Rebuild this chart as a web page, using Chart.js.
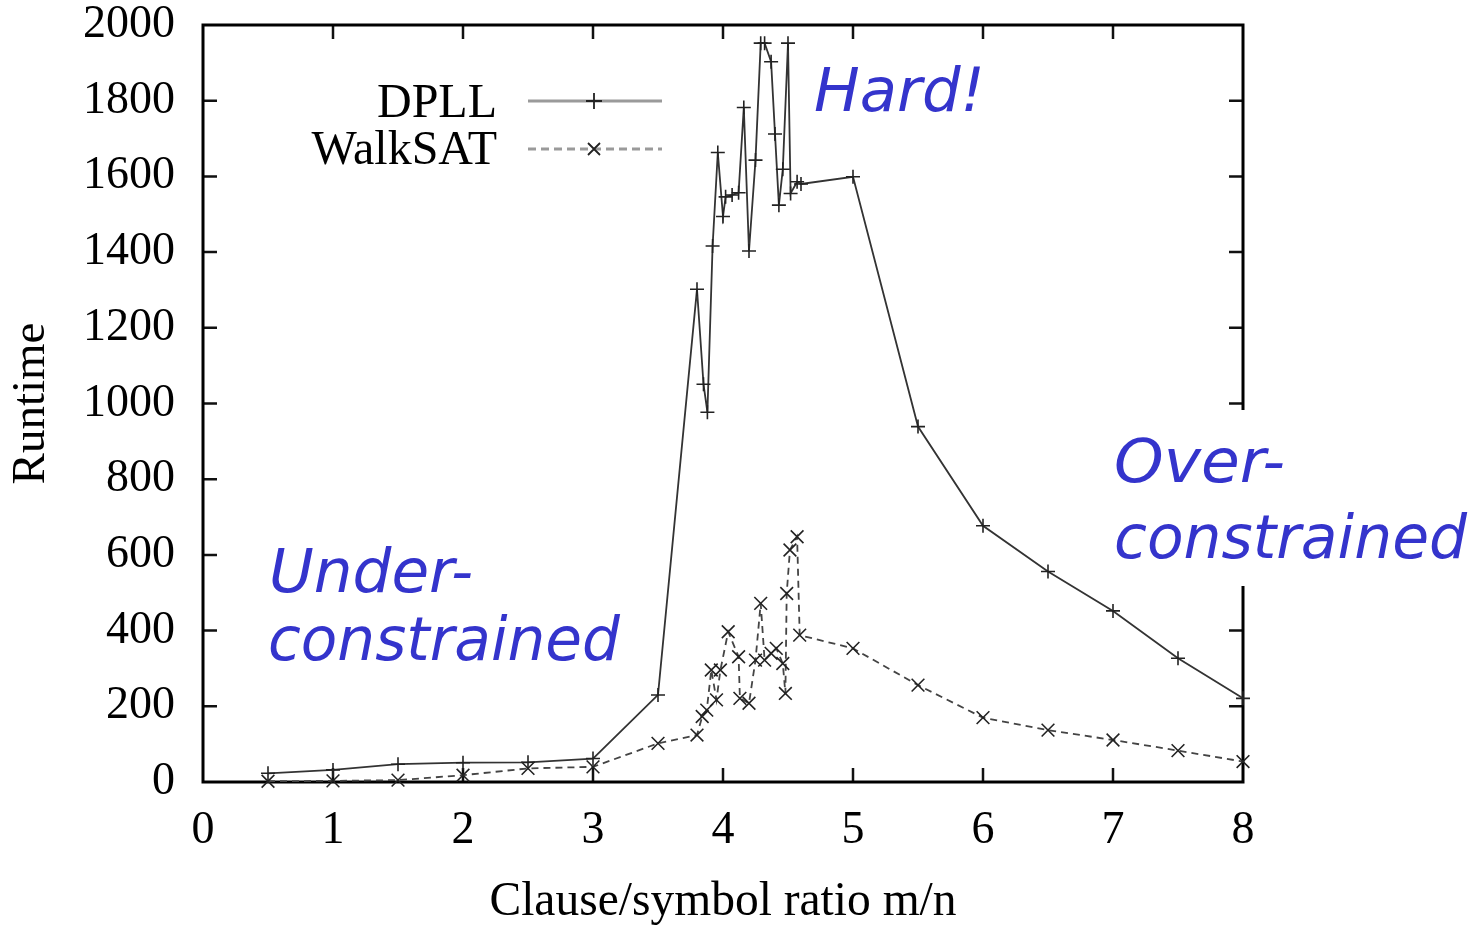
<!DOCTYPE html>
<html>
<head>
<meta charset="utf-8">
<script src="https://cdn.jsdelivr.net/npm/chart.js@4/dist/chart.umd.min.js"></script>
<style>
  html, body { margin: 0; padding: 0; background: #ffffff; }
  #wrap { width: 1480px; height: 926px; position: relative; }
</style>
</head>
<body>
<div id="wrap"><canvas id="c" width="1480" height="926"></canvas></div>
<script>
// ---- data ----
const dpllX = [0.5, 1, 1.5, 2, 2.5, 3, 3.5, 3.8, 3.85, 3.88, 3.92, 3.96, 4.0, 4.02, 4.07, 4.12, 4.16, 4.2, 4.25, 4.29, 4.32, 4.37, 4.4, 4.43, 4.46, 4.5, 4.52, 4.57, 4.6, 5, 5.5, 6, 6.5, 7, 7.5, 8];
const dpllY = [23, 32, 47, 51, 52, 62, 230, 1302, 1051, 977, 1416, 1663, 1494, 1546, 1551, 1557, 1782, 1403, 1643, 1952, 1952, 1903, 1712, 1524, 1619, 1952, 1555, 1586, 1580, 1599, 939, 677, 556, 452, 327, 221];
const walkX = [0.5, 1, 1.5, 2, 2.5, 3, 3.5, 3.8, 3.84, 3.875, 3.91, 3.95, 3.98, 4.04, 4.12, 4.13, 4.2, 4.25, 4.29, 4.32, 4.37, 4.41, 4.46, 4.48, 4.49, 4.515, 4.57, 4.59, 5, 5.5, 6, 6.5, 7, 7.5, 8];
const walkY = [2, 3, 5, 18, 36, 40, 102, 124, 173, 190, 296, 217, 296, 397, 331, 221, 208, 322, 472, 322, 340, 353, 313, 234, 498, 613, 648, 388, 353, 256, 170, 137, 111, 83, 54];
const seriesNames = ["DPLL", "WalkSAT"];
const xTitle = "Clause/symbol ratio m/n";
const yTitle = "Runtime";
const notes = [
  { lines: ["Hard!"] },
  { lines: ["Under-", "constrained"] },
  { lines: ["Over-", "constrained"] }
];

const toPts = (xs, ys) => xs.map((x, i) => ({ x: x, y: ys[i] }));
const SERIF = '"Liberation Serif", "Times New Roman", serif';

// frame with inward ticks on all four sides
const framePlugin = {
  id: 'frame',
  beforeDatasetsDraw(chart) {
    const { ctx, chartArea: a, scales } = chart;
    ctx.save();
    ctx.strokeStyle = '#111';
    ctx.lineWidth = 2.5;
    const L = 14;
    scales.x.ticks.forEach(t => {
      if (t.value <= scales.x.min || t.value >= scales.x.max) return;
      const px = scales.x.getPixelForValue(t.value);
      ctx.beginPath();
      ctx.moveTo(px, a.bottom); ctx.lineTo(px, a.bottom - L);
      ctx.moveTo(px, a.top); ctx.lineTo(px, a.top + L);
      ctx.stroke();
    });
    scales.y.ticks.forEach(t => {
      if (t.value <= scales.y.min || t.value >= scales.y.max) return;
      const py = scales.y.getPixelForValue(t.value);
      ctx.beginPath();
      ctx.moveTo(a.left, py); ctx.lineTo(a.left + L, py);
      ctx.moveTo(a.right, py); ctx.lineTo(a.right - L, py);
      ctx.stroke();
    });
    ctx.lineWidth = 3;
    ctx.strokeStyle = '#000';
    ctx.strokeRect(a.left, a.top, a.right - a.left, a.bottom - a.top);
    ctx.restore();
  }
};

function fitText(ctx, text, left, baseline, width) {
  const w = ctx.measureText(text).width;
  const sx = width / w;
  ctx.save();
  ctx.translate(left, baseline);
  ctx.scale(sx, 1);
  ctx.fillText(text, 0, 0);
  ctx.restore();
}

const overlayPlugin = {
  id: 'overlay',
  afterDraw(chart) {
    const { ctx } = chart;
    ctx.save();
    // legend (text on the left, sample on the right)
    const ds = chart.data.datasets;
    ctx.font = '48px ' + SERIF;
    ctx.fillStyle = '#000';
    ctx.textAlign = 'right';
    ctx.textBaseline = 'alphabetic';
    const rows = [{ base: 117, lineY: 101 }, { base: 164, lineY: 149 }];
    rows.forEach((r, i) => {
      ctx.fillText(ds[i].label, 497, r.base);
      ctx.save();
      ctx.strokeStyle = '#9a9a9a';
      ctx.lineWidth = 3;
      ctx.setLineDash(i === 1 ? [8, 5] : []);
      ctx.beginPath();
      ctx.moveTo(528, r.lineY); ctx.lineTo(662, r.lineY);
      ctx.stroke();
      ctx.restore();
      ctx.save();
      ctx.strokeStyle = '#222';
      ctx.lineWidth = 1.8;
      ctx.beginPath();
      if (i === 0) {
        ctx.moveTo(594, r.lineY - 8); ctx.lineTo(594, r.lineY + 8);
        ctx.moveTo(586, r.lineY); ctx.lineTo(602, r.lineY);
      } else {
        ctx.moveTo(588, r.lineY - 6); ctx.lineTo(600, r.lineY + 6);
        ctx.moveTo(588, r.lineY + 6); ctx.lineTo(600, r.lineY - 6);
      }
      ctx.stroke();
      ctx.restore();
    });

    // white box behind the right-hand annotation
    ctx.fillStyle = '#ffffff';
    ctx.fillRect(1104, 410, 376, 176);

    // blue hand-written annotations
    ctx.fillStyle = '#3434cc';
    ctx.textAlign = 'left';
    ctx.font = 'italic 60px "DejaVu Sans", sans-serif';
    fitText(ctx, notes[0].lines[0], 814, 111, 171);
    fitText(ctx, notes[1].lines[0], 269, 592, 204);
    fitText(ctx, notes[1].lines[1], 268, 660, 352);
    fitText(ctx, notes[2].lines[0], 1114, 482, 171);
    fitText(ctx, notes[2].lines[1], 1114, 558, 353);
    ctx.restore();
  }
};

new Chart(document.getElementById('c'), {
  type: 'line',
  data: {
    datasets: [
      {
        label: seriesNames[0],
        data: toPts(dpllX, dpllY),
        borderColor: '#333',
        borderWidth: 1.8,
        pointStyle: 'cross',
        pointRadius: 7,
        pointBorderWidth: 1.6,
        pointBorderColor: '#222',
        pointBackgroundColor: '#222',
        tension: 0,
        fill: false,
        clip: false
      },
      {
        label: seriesNames[1],
        data: toPts(walkX, walkY),
        borderColor: '#444',
        borderWidth: 1.8,
        borderDash: [7, 5],
        pointStyle: 'crossRot',
        pointRadius: 9,
        pointBorderWidth: 1.6,
        pointBorderColor: '#222',
        pointBackgroundColor: '#222',
        tension: 0,
        fill: false,
        clip: false
      }
    ]
  },
  options: {
    responsive: false,
    animation: false,
    devicePixelRatio: 1,
    layout: { padding: { top: 25, right: 237, left: 0, bottom: 0 } },
    plugins: { legend: { display: false }, tooltip: { enabled: false } },
    scales: {
      x: {
        type: 'linear', min: 0, max: 8,
        afterFit(s) { s.height = 144; s.paddingLeft = 0; s.paddingRight = 0; },
        grid: { display: false, drawTicks: false },
        border: { display: false },
        ticks: { stepSize: 1, color: '#000', padding: 21, font: { family: SERIF, size: 46 }, callback: v => String(v) },
        title: { display: true, text: xTitle, color: '#000', font: { family: SERIF, size: 47.5, lineHeight: 1 }, padding: { top: 2.5, bottom: 0 } }
      },
      y: {
        type: 'linear', min: 0, max: 2000,
        afterFit(s) { s.width = 203; s.paddingTop = 0; s.paddingBottom = 0; },
        grid: { display: false, drawTicks: false },
        border: { display: false },
        ticks: { stepSize: 200, color: '#000', padding: 28, font: { family: SERIF, size: 46 }, callback: v => String(v) },
        title: { display: true, text: yTitle, color: '#000', font: { family: SERIF, size: 47, lineHeight: 1 }, padding: { top: 8.5, bottom: 0 } }
      }
    }
  },
  plugins: [framePlugin, overlayPlugin]
});
</script>
</body>
</html>
